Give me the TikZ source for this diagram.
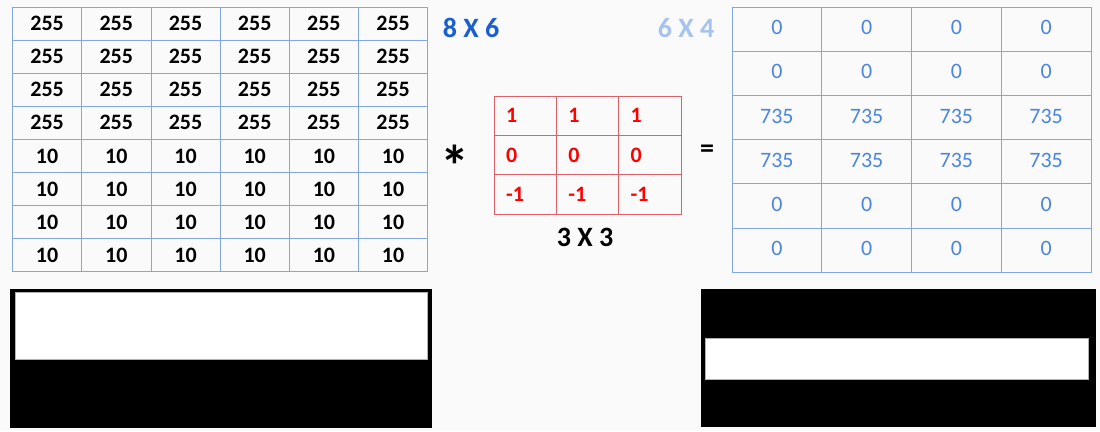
\documentclass[tikz,border=0pt]{standalone}
\usepackage{fontspec}
\setmainfont{Carlito}
\definecolor{bgcol}{HTML}{FAFAFA}
\definecolor{gridblue}{HTML}{82A6EA}
\definecolor{numblue}{HTML}{4A86E0}
\definecolor{dimblue}{HTML}{A6C3F0}
\definecolor{deepblue}{HTML}{1A5FCE}
\definecolor{kernline}{HTML}{E06068}
\tikzset{
	inputcell/.style={draw=gridblue, line width=0.8pt, inner sep=0pt, minimum width=69.2pt, minimum height=33.1pt, font=\fontsize{22}{22}\selectfont\bfseries},
	kerncell/.style={draw=kernline, line width=0.8pt, inner sep=0pt, minimum width=62.3pt, minimum height=39.3pt},
	kernnum/.style={anchor=west, text=red, font=\fontsize{22}{22}\selectfont\bfseries},
	outcell/.style={draw=gridblue, line width=0.8pt, inner sep=0pt, minimum width=89.75pt, minimum height=44.2pt, text=numblue, font=\fontsize{22}{22}\selectfont},
	sizelabel/.style={font=\fontsize{28}{28}\selectfont\bfseries},
}
\begin{document}
\begin{tikzpicture}[x=1pt, y=-1pt]
	\fill[bgcol] (0, 0) rectangle (1100, 431);
	\useasboundingbox (0, 0) rectangle (1100, 431);
% input image 8 x 6
\foreach \r in {1,...,8} {
	\foreach \c in {1,...,6} {
		\ifnum\r<5 \def\val{255}\else \def\val{10}\fi
		\node[inputcell] (in-\r-\c) at ({12.5 + (\c - 0.5) * 69.2}, {7 + (\r - 0.5) * 33.1}) {\val};
	}
}
% kernel 3 x 3
\foreach \r/\val in {1/1, 2/0, 3/-1} {
	\foreach \c in {1,2,3} {
		\node[kerncell] (k-\r-\c) at ({494 + (\c - 0.5) * 62.3}, {96 + (\r - 0.5) * 39.3}) {};
		\node[kernnum] (kn-\r-\c) at ([xshift=9pt] k-\r-\c.west) {\val};
	}
}
% output 6 x 4
\foreach \r/\val in {1/0, 2/0, 3/735, 4/735, 5/0, 6/0} {
	\foreach \c in {1,...,4} {
		\node[outcell] (out-\r-\c) at ({732 + (\c - 0.5) * 89.75}, {7 + (\r - 0.5) * 44.2}) {\raisebox{3pt}{\val}};
	}
}
\node[sizelabel, text=deepblue] (insize) at (471, 28) {8 X 6};
\node[sizelabel, text=dimblue] (outsize) at (686, 28) {6 X 4};
\node[sizelabel] (kernsize) at (585, 237) {3 X 3};
\node[font=\fontsize{58}{58}\selectfont\bfseries] (star) at (455, 166) {*};
\node[font=\fontsize{28}{28}\selectfont\bfseries] (equal) at (707, 151) {=};
% bottom pictures
\fill[black] (10, 289) rectangle (432, 428);
\draw[fill=white, draw=gray!60, line width=0.6pt] (15, 292) rectangle (427, 359);
\fill[black] (701, 289) rectangle (1096, 427);
\draw[fill=white, draw=gray!60, line width=0.6pt] (705, 338) rectangle (1088, 379);
\end{tikzpicture}
\end{document}
